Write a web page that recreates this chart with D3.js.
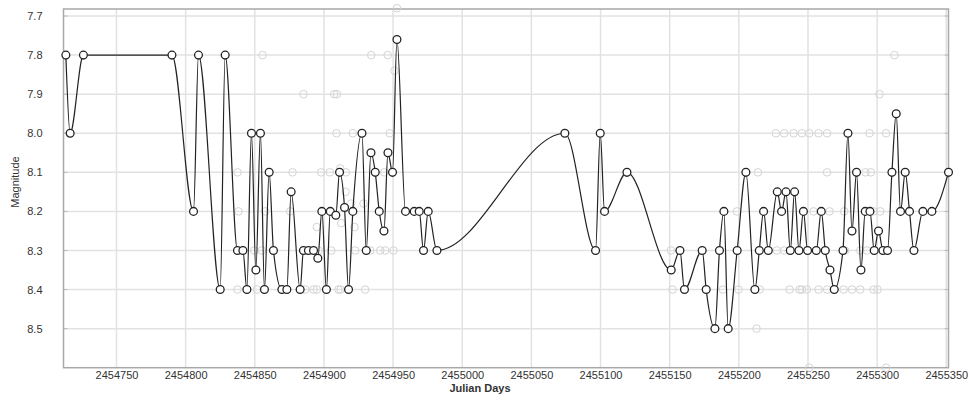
<!DOCTYPE html>
<html>
<head>
<meta charset="utf-8">
<script src="https://cdn.jsdelivr.net/npm/d3@7"></script>
<style>
  body { margin: 0; background: #fff; }
  svg text { font-family: "Liberation Sans", Arial, sans-serif; }
</style>
</head>
<body>
<svg id="plot"></svg>
<script>
// main observations (Julian day, magnitude)
const days = [
  2454713.4, 2454716.5, 2454726.1, 2454790.1, 2454805.7, 2454809.3, 2454825.0, 2454828.6,
  2454837.5, 2454841.4, 2454844.3, 2454847.6, 2454850.8, 2454854.1, 2454857.0, 2454860.4,
  2454863.5, 2454869.6, 2454873.2, 2454876.3, 2454882.8, 2454885.2, 2454888.8, 2454892.5,
  2454895.6, 2454898.5, 2454901.8, 2454904.6, 2454908.6, 2454911.3, 2454914.9, 2454917.8,
  2454920.9, 2454927.5, 2454930.6, 2454934.0, 2454937.1, 2454940.0, 2454943.4, 2454946.3,
  2454949.6, 2454952.8, 2454959.0, 2454965.3, 2454968.9, 2454972.0, 2454975.4, 2454981.7,
  2455074.2, 2455096.4, 2455099.8, 2455102.9, 2455119.1, 2455151.1, 2455157.4, 2455160.7,
  2455173.5, 2455176.4, 2455182.7, 2455186.0, 2455189.2, 2455192.3, 2455198.8, 2455205.1,
  2455211.6, 2455214.8, 2455217.9, 2455221.3, 2455227.8, 2455230.9, 2455234.1, 2455237.2,
  2455240.3, 2455243.5, 2455246.7, 2455249.7, 2455256.0, 2455259.6, 2455262.5, 2455265.9,
  2455269.0, 2455275.3, 2455278.9, 2455281.8, 2455285.1, 2455288.3, 2455291.4, 2455294.8,
  2455297.9, 2455301.0, 2455304.2, 2455307.5, 2455310.7, 2455313.8, 2455316.9, 2455320.3,
  2455323.4, 2455326.6, 2455333.1, 2455339.6, 2455351.6
];
const mags = [
  7.8, 8.0, 7.8, 7.8, 8.2, 7.8, 8.4, 7.8,
  8.3, 8.3, 8.4, 8.0, 8.35, 8.0, 8.4, 8.1,
  8.3, 8.4, 8.4, 8.15, 8.4, 8.3, 8.3, 8.3,
  8.32, 8.2, 8.4, 8.2, 8.21, 8.1, 8.19, 8.4,
  8.2, 8.0, 8.3, 8.05, 8.1, 8.2, 8.25, 8.05,
  8.1, 7.76, 8.2, 8.2, 8.2, 8.3, 8.2, 8.3,
  8.0, 8.3, 8.0, 8.2, 8.1, 8.35, 8.3, 8.4,
  8.3, 8.4, 8.5, 8.3, 8.2, 8.5, 8.3, 8.1,
  8.4, 8.3, 8.2, 8.3, 8.15, 8.2, 8.15, 8.3,
  8.15, 8.3, 8.2, 8.3, 8.3, 8.2, 8.3, 8.35,
  8.4, 8.3, 8.0, 8.25, 8.1, 8.35, 8.2, 8.2,
  8.3, 8.25, 8.3, 8.3, 8.1, 7.95, 8.2, 8.1,
  8.2, 8.3, 8.2, 8.2, 8.1
];

// other observers, drawn faint in the background
const otherDays = [
  2454837.5, 2454838.2, 2454837.5, 2454849.6, 2454851.5, 2454855.6, 2454855.1, 2454857.5,
  2454875.6, 2454877.3, 2454885.2, 2454886.5, 2454892.5, 2454894.9, 2454894.9, 2454896.1,
  2454898.0, 2454904.3, 2454905.3, 2454907.4, 2454909.4, 2454909.1, 2454910.5, 2454911.8,
  2454912.5, 2454912.0, 2454915.7, 2454915.9, 2454919.7, 2454920.9, 2454922.1, 2454922.6,
  2454928.6, 2454929.8, 2454933.5, 2454934.2, 2454940.7, 2454943.6, 2454944.3, 2454946.1,
  2454947.6, 2454950.3, 2454951.0, 2454952.8,
  2455150.9, 2455152.0, 2455188.5, 2455198.6, 2455199.8, 2455212.8, 2455213.8, 2455215.1,
  2455226.8, 2455227.5, 2455232.8, 2455232.8, 2455236.7, 2455239.6, 2455243.9, 2455245.6,
  2455245.6, 2455249.2, 2455250.9, 2455250.9, 2455254.0, 2455257.6, 2455257.6, 2455263.8,
  2455263.8, 2455263.8, 2455265.6, 2455275.7, 2455276.2, 2455276.9, 2455281.8, 2455287.8,
  2455287.8, 2455291.6, 2455292.6, 2455294.5, 2455295.5, 2455297.4, 2455297.4, 2455300.3,
  2455301.7, 2455302.2, 2455306.5, 2455306.5, 2455312.5
];
const otherMags = [
  8.1, 8.2, 8.4, 8.3, 8.4, 7.8, 8.3, 8.2,
  8.2, 8.1, 7.9, 8.4, 8.4, 8.24, 8.4, 8.3,
  8.1, 8.1, 8.3, 7.9, 7.9, 8.0, 8.4, 8.09,
  8.23, 8.4, 8.15, 8.1, 8.18, 8.0, 8.24, 8.3,
  8.18, 8.4, 8.3, 7.8, 8.3, 8.1, 8.3, 7.8,
  8.0, 8.3, 7.84, 7.68,
  8.3, 8.4, 8.4, 8.2, 8.4, 8.5, 8.1, 8.4,
  8.0, 8.3, 8.0, 8.3, 8.4, 8.0, 8.4, 8.0,
  8.4, 8.4, 8.0, 8.6, 8.2, 8.0, 8.4, 8.0,
  8.1, 8.4, 8.2, 8.4, 8.2, 8.3, 8.4, 8.3,
  8.4, 8.1, 8.3, 8.0, 8.1, 8.2, 8.4, 8.4,
  7.9, 8.2, 8.0, 8.6, 7.8
];

const xTicks = [2454750, 2454800, 2454850, 2454900, 2454950, 2455000, 2455050,
  2455100, 2455150, 2455200, 2455250, 2455300, 2455350];
const yTicks = [7.7, 7.8, 7.9, 8.0, 8.1, 8.2, 8.3, 8.4, 8.5];

const width = 968;
const height = 394;
const margin = { top: 9, right: 19.5, bottom: 26.3, left: 63.5 };
const innerW = width - margin.left - margin.right;
const innerH = height - margin.top - margin.bottom;

const svg = d3.select('svg#plot').attr('width', width).attr('height', height);
const g = svg.append('g').attr('transform', `translate(${margin.left},${margin.top})`);

const x = d3.scaleLinear().domain([2454711.7, 2455351.6]).range([0, innerW]);
const y = d3.scaleLinear().domain([7.682, 8.6]).range([0, innerH]);

// grid
g.append('g')
  .selectAll('line.hgrid')
  .data(yTicks)
  .join('line')
  .attr('x1', 0).attr('x2', innerW)
  .attr('y1', d => y(d)).attr('y2', d => y(d))
  .attr('stroke', '#e2e2e2').attr('stroke-width', 1.5);

g.append('g')
  .selectAll('line.vgrid')
  .data(xTicks)
  .join('line')
  .attr('y1', 0).attr('y2', innerH)
  .attr('x1', d => x(d)).attr('x2', d => x(d))
  .attr('stroke', '#e2e2e2').attr('stroke-width', 1.5);

// short inner ticks on left and right frame
g.append('g')
  .selectAll('line')
  .data(yTicks)
  .join('line')
  .attr('x1', 0).attr('x2', 4)
  .attr('y1', d => y(d)).attr('y2', d => y(d))
  .attr('stroke', '#bbb');
g.append('g')
  .selectAll('line')
  .data(yTicks)
  .join('line')
  .attr('x1', innerW - 4).attr('x2', innerW)
  .attr('y1', d => y(d)).attr('y2', d => y(d))
  .attr('stroke', '#bbb');

// axes (labels only)
const yAxis = g.append('g')
  .call(d3.axisLeft(y).tickValues(yTicks).tickFormat(d3.format('.1f')).tickSize(0).tickPadding(21));
const xAxis = g.append('g')
  .attr('transform', `translate(0,${innerH})`)
  .call(d3.axisBottom(x).tickValues(xTicks).tickFormat(d3.format('d')).tickSize(0).tickPadding(4));
[yAxis, xAxis].forEach(a => {
  a.select('.domain').remove();
  a.selectAll('text').style('font-size', '11px').attr('fill', '#333');
});

// frame
g.append('rect')
  .attr('width', innerW).attr('height', innerH)
  .attr('fill', 'none').attr('stroke', '#a8a8a8').attr('stroke-width', 1.5);

// faint background observations
g.append('g')
  .selectAll('circle')
  .data(otherDays.map((d, i) => ({ d, m: otherMags[i] })))
  .join('circle')
  .attr('cx', p => x(p.d)).attr('cy', p => y(p.m))
  .attr('r', 3.8)
  .attr('fill', 'none')
  .attr('stroke', '#d4d4d4')
  .attr('stroke-width', 1);

// main curve
const pts = days.map((d, i) => ({ d, m: mags[i] }));
const line = d3.line().x(p => x(p.d)).y(p => y(p.m)).curve(d3.curveMonotoneX);
g.append('path')
  .datum(pts)
  .attr('d', line)
  .attr('fill', 'none')
  .attr('stroke', '#222')
  .attr('stroke-width', 1.2);

g.append('g')
  .selectAll('circle')
  .data(pts)
  .join('circle')
  .attr('cx', p => x(p.d)).attr('cy', p => y(p.m))
  .attr('r', 3.9)
  .attr('fill', '#fff')
  .attr('stroke', '#222')
  .attr('stroke-width', 1.3);

// axis titles
svg.append('text')
  .attr('x', 480).attr('y', 392)
  .attr('text-anchor', 'middle')
  .style('font-size', '11px').style('font-weight', 'bold')
  .attr('fill', '#333')
  .text('Julian Days');

svg.append('text')
  .attr('transform', 'translate(19,182) rotate(-90)')
  .attr('text-anchor', 'middle')
  .style('font-size', '11px')
  .attr('fill', '#333')
  .text('Magnitude');
</script>
</body>
</html>
